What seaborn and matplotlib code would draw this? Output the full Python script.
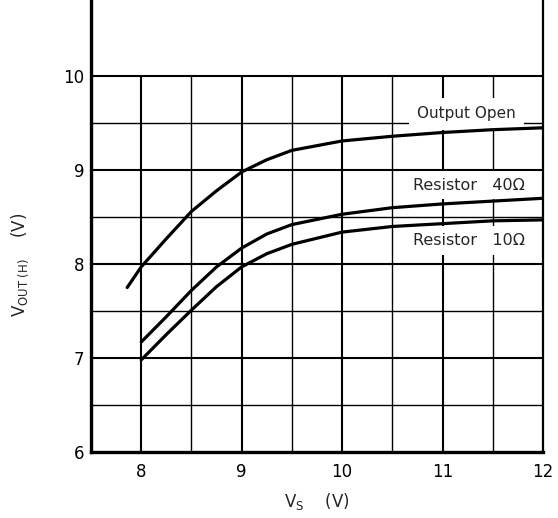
import matplotlib
matplotlib.use("Agg")
import matplotlib.pyplot as plt
import seaborn as sns
import pandas as pd

# ---- data ----
vs_open = [7.86, 8.0, 8.25, 8.5, 8.75, 9.0, 9.25, 9.5, 10.0, 10.5, 11.0, 11.5, 12.0]
vout_open = [7.75, 7.97, 8.27, 8.56, 8.78, 8.98, 9.11, 9.21, 9.31, 9.36, 9.40, 9.43, 9.45]

vs_res = [8.0, 8.25, 8.5, 8.75, 9.0, 9.25, 9.5, 10.0, 10.5, 11.0, 11.5, 12.0]
vout_40 = [7.17, 7.44, 7.72, 7.97, 8.17, 8.32, 8.42, 8.53, 8.60, 8.64, 8.67, 8.70]
vout_10 = [6.98, 7.25, 7.51, 7.76, 7.97, 8.11, 8.21, 8.34, 8.40, 8.43, 8.46, 8.47]

series_names = ["Output Open", "Resistor   40\u03a9", "Resistor   10\u03a9"]
x_ticks = [8, 9, 10, 11, 12]
y_ticks = [6, 7, 8, 9, 10]

df = pd.concat([
    pd.DataFrame({"Vs": vs_open, "Vout": vout_open, "series": series_names[0]}),
    pd.DataFrame({"Vs": vs_res, "Vout": vout_40, "series": series_names[1]}),
    pd.DataFrame({"Vs": vs_res, "Vout": vout_10, "series": series_names[2]}),
])

sns.set_style("white")
plt.rcParams["font.family"] = ["DejaVu Sans"]

fig = plt.figure(figsize=(5.58, 5.18), dpi=100)
ax = fig.add_axes([91 / 558, 66 / 518, 452 / 558, 1 - 66 / 518])

xmin, xmax, ymin, ymax = 7.5, 12.0, 6.0, 10.81
ax.set_xlim(xmin, xmax)
ax.set_ylim(ymin, ymax)

# grid only within 6..10
for xv in [8.0, 8.5, 9.0, 9.5, 10.0, 10.5, 11.0, 11.5]:
    major = float(xv).is_integer()
    ax.vlines(xv, ymin, 10.0, color="black", lw=1.5 if major else 1.0, zorder=1)
for yv in [6.5, 7.0, 7.5, 8.0, 8.5, 9.0, 9.5, 10.0]:
    major = float(yv).is_integer()
    ax.hlines(yv, xmin, xmax, color="black", lw=1.5 if major else 1.0, zorder=1)

for name in series_names:
    sub = df[df["series"] == name]
    sns.lineplot(data=sub, x="Vs", y="Vout", ax=ax, color="black", lw=2.3,
                 sort=True, legend=False, zorder=5)

ax.text(11.24, 9.60, "Output Open", fontsize=11, ha="center", va="center",
        bbox=dict(facecolor="white", edgecolor="none", pad=6), zorder=3)
ax.text(11.26, 8.84, series_names[1], fontsize=11.5, ha="center", va="center",
        bbox=dict(facecolor="white", edgecolor="none", pad=5), zorder=3)
ax.text(11.26, 8.25, series_names[2], fontsize=11.5, ha="center", va="center",
        bbox=dict(facecolor="white", edgecolor="none", pad=5), zorder=3)

ax.set_xticks(x_ticks)
ax.set_yticks(y_ticks)
ax.tick_params(axis="both", length=0, labelsize=12, colors="black")
ax.tick_params(axis="x", pad=8)
ax.tick_params(axis="y", pad=5)
ax.set_xlabel("")
ax.set_ylabel("")

ax.spines["top"].set_visible(False)
ax.spines["left"].set_linewidth(2.4)
ax.spines["bottom"].set_linewidth(2.4)
ax.spines["right"].set_linewidth(1.6)
for s in ["left", "bottom", "right"]:
    ax.spines[s].set_color("black")

fig.text(317 / 558, 1 - 502 / 518, r"V$_{\mathrm{S}}$    (V)", fontsize=12,
         ha="center", va="center")
fig.text(20 / 558, 1 - 265 / 518, r"V$_{\mathrm{OUT\ (H)}}$    (V)", fontsize=12,
         ha="center", va="center", rotation=90)

fig.savefig("out.png", dpi=100)
